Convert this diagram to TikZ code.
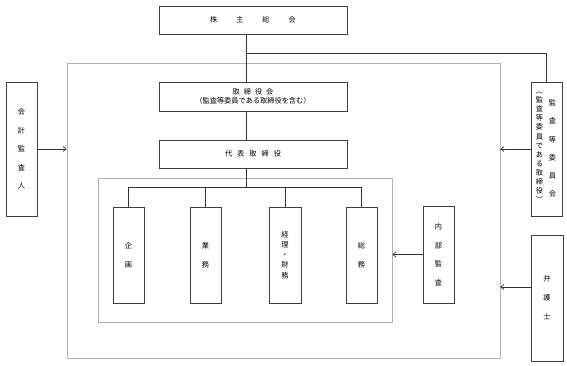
\documentclass[tikz,border=0pt]{standalone}
\usepackage{fontspec}
\setmainfont{Noto Sans CJK JP}
\usetikzlibrary{arrows.meta}
\begin{document}
\begin{tikzpicture}[x=1pt,y=-1pt,
  box/.style={draw=black!75, line width=0.8pt, inner sep=0pt, align=center, font=\fontsize{7.2}{9}\selectfont},
  grp/.style={draw=black!30, line width=0.8pt, inner sep=0pt},
  con/.style={draw=black!80, line width=0.7pt},
  arr/.style={con, -{Straight Barb[length=3pt,width=5pt]}},
  txt/.style={inner sep=0pt, align=center}]
\useasboundingbox (0,0) rectangle (567,365);
% group frames
\node[grp, minimum width=433, minimum height=295] (outer) at (283.5,210.5) {};
\node[grp, minimum width=294, minimum height=144] (inner) at (245,250) {};
% boxes
\node[box, minimum width=188, minimum height=28] (sh) at (253,20) {株\hspace{19pt}主\hspace{19pt}総\hspace{19pt}会};
\node[box, minimum width=188, minimum height=29] (tb) at (253,96.5) {取\hspace{4pt}締\hspace{4pt}役\hspace{4pt}会\\（監査等委員である取締役を含む）};
\node[box, minimum width=188, minimum height=28] (dh) at (253,154) {代\hspace{5pt}表\hspace{5pt}取\hspace{5pt}締\hspace{5pt}役};
\node[box, minimum width=31, minimum height=96, font=\fontsize{7.2}{19}\selectfont] (kk) at (128.5,255) {企\\画};
\node[box, minimum width=31, minimum height=96, font=\fontsize{7.2}{19}\selectfont] (gm) at (205.5,255) {業\\務};
\node[box, minimum width=32, minimum height=96, font=\fontsize{7.2}{10.2}\selectfont] (kz) at (285,255) {経\\理\\・\\財\\務};
\node[box, minimum width=31, minimum height=96, font=\fontsize{7.2}{19}\selectfont] (sm) at (361.5,255) {総\\務};
\node[box, minimum width=31, minimum height=97, font=\fontsize{7.2}{18.5}\selectfont] (nb) at (438.5,254.5) {内\\部\\監\\査};
\node[box, minimum width=32, minimum height=126, font=\fontsize{7.2}{19}\selectfont] (bg) at (547,298) {弁\\護\\士};
\node[box, minimum width=31, minimum height=134, font=\fontsize{7.2}{18.5}\selectfont] (ka) at (21.5,149) {会\\計\\監\\査\\人};
\node[box, minimum width=31, minimum height=134] (ki) at (546.5,149) {};
\node[txt, font=\fontsize{7.2}{9.1}\selectfont] (kil) at (539.5,147.5) {︵\\監\\査\\等\\委\\員\\で\\あ\\る\\取\\締\\役\\︶};
\node[txt, font=\fontsize{7.2}{18.2}\selectfont] (kir) at (552.5,148.5) {監\\査\\等\\委\\員\\会};
% connectors
\coordinate (spine) at (246,0);
\coordinate (br) at (246,53);
\coordinate (bus) at (0,187);
\draw[con] (spine |- sh.south) -- (spine |- tb.north);
\draw[con] (br) -| (ki.north);
\draw[con] (spine |- tb.south) -- (spine |- dh.north);
\draw[con] (spine |- dh.south) -- (spine |- bus);
\draw[con] (kk.north) |- (sm.north |- bus) -- (sm.north);
\draw[con] (gm.north) -- (gm.north |- bus);
\draw[con] (kz.north) -- (kz.north |- bus);
% arrows
\draw[arr] (ka.east) -- (ka.east -| outer.west);
\draw[arr] (ki.west) -- (ki.west -| outer.east);
\coordinate (bga) at ([yshift=11pt]bg.west);
\draw[arr] (bga) -- (bga -| outer.east);
\draw[arr] (nb.west) -- (nb.west -| inner.east);
\end{tikzpicture}
\end{document}
